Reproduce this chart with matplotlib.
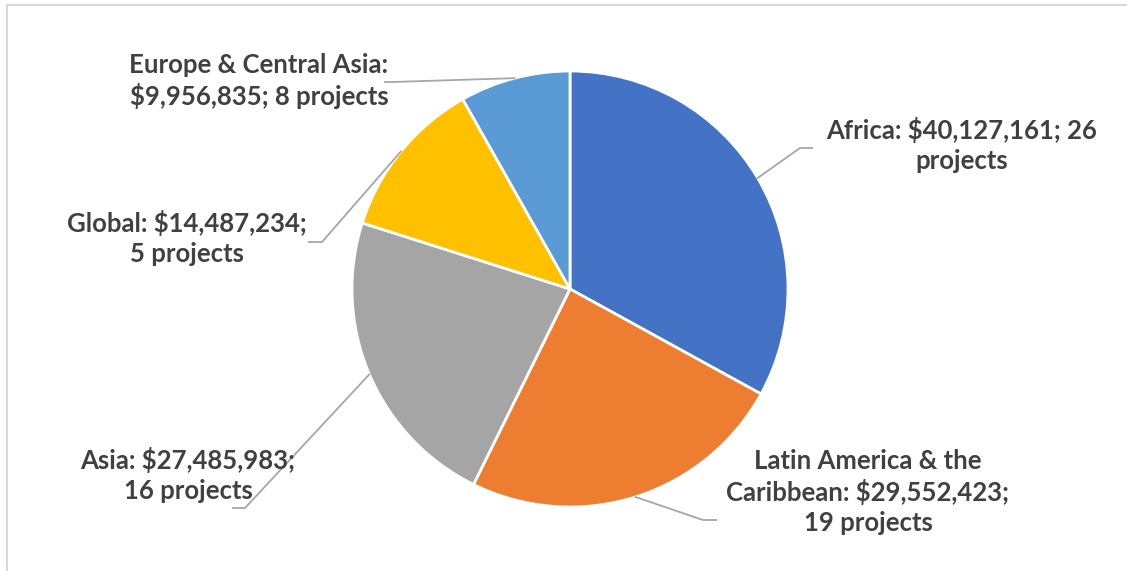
import numpy as np
import matplotlib
matplotlib.use("Agg")
import matplotlib.pyplot as plt
from matplotlib.lines import Line2D

# ---- data ----
regions = ["Africa", "Latin America & the Caribbean", "Asia", "Global", "Europe & Central Asia"]
amounts = [40127161, 29552423, 27485983, 14487234, 9956835]
projects = [26, 19, 16, 5, 8]
label_texts = [
    "Africa: $40,127,161; 26\nprojects",
    "Latin America & the\nCaribbean: $29,552,423;\n19 projects",
    "Asia: $27,485,983;\n16 projects",
    "Global: $14,487,234;\n5 projects",
    "Europe & Central Asia:\n$9,956,835; 8 projects",
]
colors = ["#4472C4", "#ED7D31", "#A5A5A5", "#FFC000", "#5B9BD5"]

W, H = 1127, 571
DPI = 100
fig = plt.figure(figsize=(W / DPI, H / DPI), dpi=DPI)
fig.patch.set_facecolor("white")

# border (top and left visible)
fig.add_artist(Line2D([6.5 / W, 6.5 / W], [0, 1 - 4.5 / H], transform=fig.transFigure,
                      color="#D9D9D9", lw=1.5))
fig.add_artist(Line2D([6.5 / W, 1], [1 - 4.5 / H, 1 - 4.5 / H], transform=fig.transFigure,
                      color="#D9D9D9", lw=1.5))

cx, cy, R = 570, 289, 218
ax = fig.add_axes([(cx - R) / W, (H - cy - R) / H, 2 * R / W, 2 * R / H])

wedges, _ = ax.pie(amounts, colors=colors, startangle=90, counterclock=False, radius=1,
                   wedgeprops=dict(edgecolor="white", linewidth=2.0))
ax.set_xlim(-1, 1)
ax.set_ylim(-1, 1)
ax.set_aspect("equal")
ax.axis("off")

def px2d(px, py):
    return (px - cx) / R, (cy - py) / R

# label layout (pixel positions)
label_pos = [(962, 145), (868, 492), (188, 475), (187, 238), (259, 81)]
elbows = [
    [(800, 148), (812, 148)],
    [(703, 520), (716, 520)],
    [(245, 508), (233, 508)],
    [(322, 242), (309, 242)],
    [(392, 82), (385, 82)],
]

for w, txt, (lx, ly), elb in zip(wedges, label_texts, label_pos, elbows):
    mid = np.deg2rad((w.theta1 + w.theta2) / 2)
    sx, sy = np.cos(mid), np.sin(mid)
    pts = [(sx, sy)] + [px2d(*p) for p in elb]
    xs, ys = zip(*pts)
    ax.plot(xs, ys, color="#A6A6A6", lw=1.3, clip_on=False, solid_joinstyle="miter")
    tx, ty = px2d(lx, ly)
    ax.text(tx, ty, txt, ha="center", va="center", fontsize=18.5, fontweight="bold",
            color="#404040", family=["Lato", "DejaVu Sans"], linespacing=1.3,
            clip_on=False)

fig.savefig("out.png", dpi=DPI, facecolor="white")
